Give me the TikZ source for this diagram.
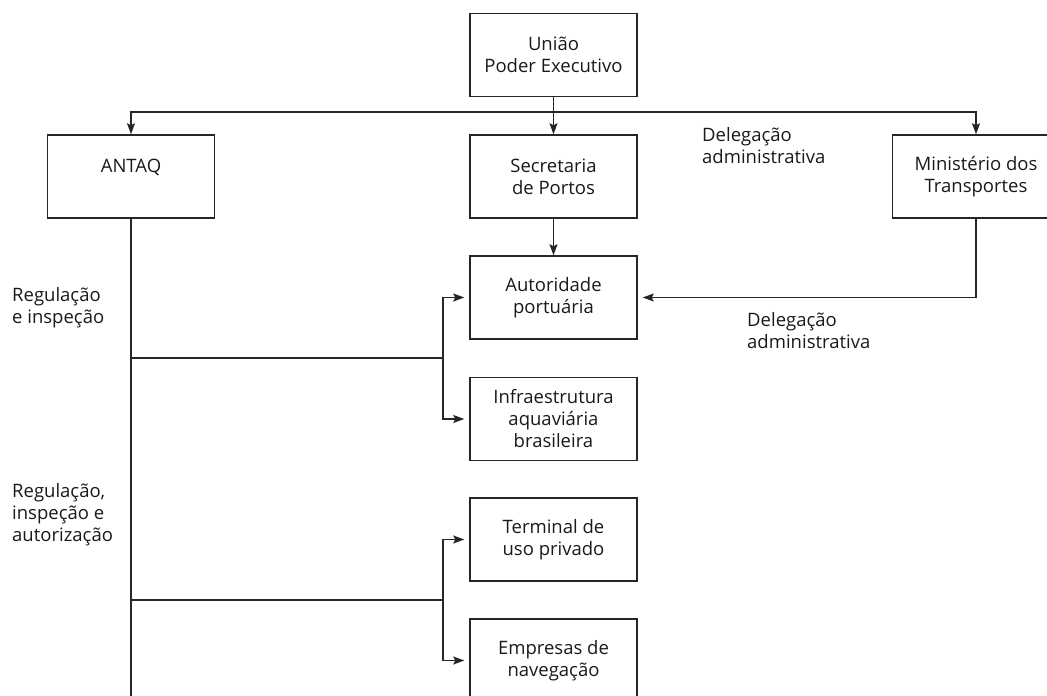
\documentclass[tikz,border=0pt]{standalone}
\usepackage{fontspec}
\setmainfont{Open Sans}
\usetikzlibrary{arrows.meta}
\begin{document}
\begin{tikzpicture}[x=1pt,y=-1pt,
  txt/.style={font=\fontsize{18.5}{22}\selectfont, text=black!90},
  box/.style={txt, draw=black!85, line width=1.5pt, minimum width=167pt, minimum height=83pt, align=center, inner sep=0pt},
  lbl/.style={txt, align=left, anchor=north west, inner sep=0pt},
  conn/.style={draw=black!85, line width=1.5pt},
  arr/.style={conn, -{Stealth[length=11pt,width=8pt,inset=2pt]}},
  sarr/.style={arr, shorten >=5pt}]
\useasboundingbox (0,0) rectangle (1047,696);
\node[box] (uniao) at (553.5,55) {União\\Poder Executivo};
\node[box] (antaq) at (131,176.5) {ANTAQ\\\phantom{A}};
\node[box] (sec) at (553.5,176.5) {Secretaria\\de Portos};
\node[box] (min) at (976,176.5) {Ministério dos\\Transportes};
\node[box] (aut) at (553.5,297.5) {Autoridade\\portuária};
\node[box] (inf) at (553.5,419) {Infraestrutura\\aquaviária\\brasileira};
\node[box] (term) at (553.5,539.5) {Terminal de\\uso privado};
\node[box] (emp) at (553.5,660.5) {Empresas de\\navegação};
\coordinate (hb) at (553.5,112);
\coordinate (antaqend) at (131,700);
\coordinate (j1) at (443,358);
\coordinate (j2) at (443,600);
\coordinate (k1) at (131,358);
\coordinate (k2) at (131,600);
\draw[arr] (uniao) -- (sec);
\draw[arr] (hb) -| (antaq.north);
\draw[arr] (hb) -| (min.north);
\draw[arr] (sec) -- (aut);
\draw[sarr] (min.south) |- (aut.east);
\draw[conn] (antaq.south) -- (antaqend);
\draw[conn] (k1) -- (j1);
\draw[sarr] (j1) |- (aut.west);
\draw[sarr] (j1) |- (inf.west);
\draw[conn] (k2) -- (j2);
\draw[sarr] (j2) |- (term.west);
\draw[sarr] (j2) |- (emp.west);
\node[lbl] (l1) at (702,127) {Delegação\\administrativa};
\node[lbl] (l2) at (747,312) {Delegação\\administrativa};
\node[lbl] (l3) at (12,287) {Regulação\\e inspeção};
\node[lbl] (l4) at (12,483) {Regulação,\\inspeção e\\autorização};
\end{tikzpicture}
\end{document}
